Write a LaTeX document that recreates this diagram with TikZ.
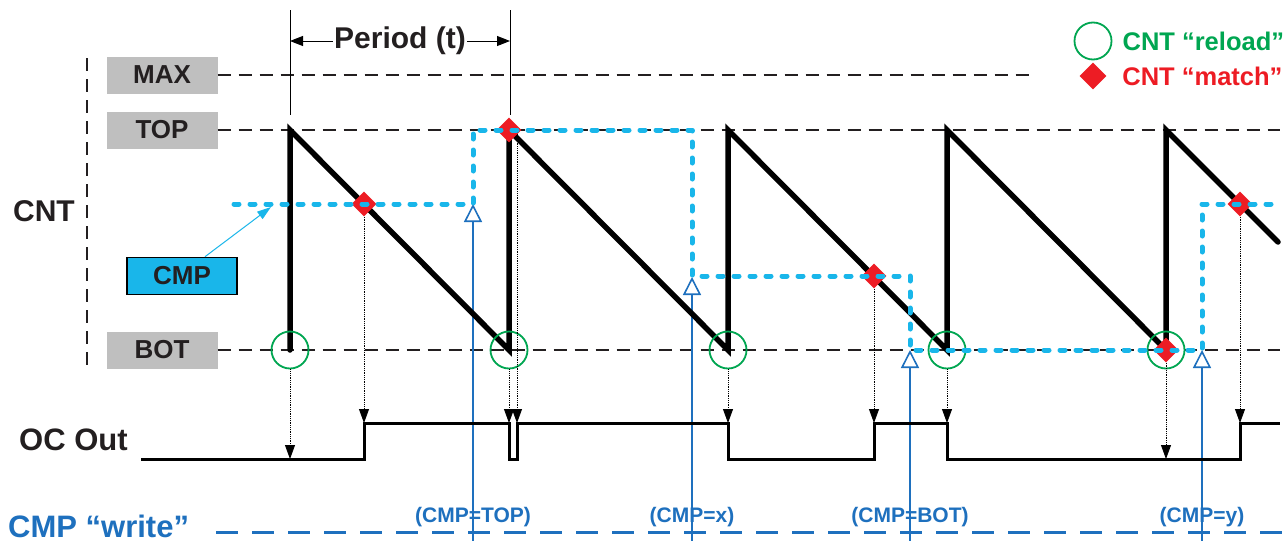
\documentclass[tikz,border=0pt]{standalone}
\usepackage{fontspec}
\setmainfont{Liberation Sans}
\usetikzlibrary{arrows.meta,positioning,shapes.geometric}
\definecolor{cmpCyan}{RGB}{25,182,234}
\definecolor{writeBlue}{RGB}{30,112,190}
\definecolor{reloadGreen}{RGB}{0,166,81}
\definecolor{matchRed}{RGB}{237,28,36}
\definecolor{levelGray}{RGB}{191,191,191}
\definecolor{inkBlack}{RGB}{35,31,32}

\begin{document}
\begin{tikzpicture}[x=1pt,y=-1pt,
      level/.style={fill=levelGray,minimum width=111pt,minimum height=37pt,inner sep=0pt,
        text=inkBlack,font=\fontsize{26}{28}\selectfont\bfseries},
      guide/.style={inkBlack,line width=2.3pt,dash pattern=on 13pt off 8pt},
      reload/.style={circle,draw=reloadGreen,line width=1.8pt,minimum size=37pt,inner sep=0pt},
      match/.style={diamond,fill=matchRed,minimum size=25pt,inner sep=0pt},
      evt/.style={black,line width=0.8pt,densely dotted,-{Triangle[length=14pt,width=10pt]}},
      wr/.style={writeBlue,line width=1.6pt,-{Triangle[length=18pt,width=18pt,fill=white]}},
      wrlabel/.style={inner sep=0pt,text=writeBlue,font=\fontsize{21}{23}\selectfont\bfseries},
      bigtext/.style={inner sep=0pt,text=inkBlack,font=\fontsize{31}{33}\selectfont\bfseries},
      keytext/.style={inner sep=0pt,font=\fontsize{25.5}{28}\selectfont\bfseries}
    ]
    \path[use as bounding box,fill=white] (0,0) rectangle (1286,541);

    % Counter levels and their grey tags.
    \foreach \n/\y/\t in {max/75/MAX,top/130/TOP,bot/350/BOT}{
      \node[level] (\n) at (162,\y) {\t};
    }
    \draw[guide] (max.east) -- (1035,75);
    \draw[guide] (top.east) -- (1280,130);
    \draw[guide] (bot.east) -- (1280,350);
    \draw[guide] (87,58) -- (87,365);

    \node[bigtext,font=\fontsize{30}{32}\selectfont\bfseries] (cnt) at (44,211) {CNT};
    \node[bigtext,anchor=west] (ocout) at (19,440) {OC Out};
    \node[bigtext,anchor=west,text=writeBlue] (cmpwrite) at (8,526) {CMP “write”};

    % Period of the counter.
    \draw[line width=1pt] (290,10) -- (290,115);
    \draw[line width=1pt] (510,10) -- (510,115);
    \node[inner sep=1pt,text=inkBlack,font=\fontsize{30}{32}\selectfont\bfseries]
      (period) at (400,41) {Period (t)};
    \coordinate (pl) at (290,41);
    \coordinate (pr) at (510,41);
    \draw[line width=1pt,-{Triangle[length=13pt,width=10pt]}] (period) -- (pl);
    \draw[line width=1pt,-{Triangle[length=13pt,width=10pt]}] (period) -- (pr);

    % Writes to CMP.
    \draw[writeBlue,line width=3pt,dash pattern=on 22pt off 14pt] (216,532) -- (1286,532);
    \foreach \x/\y/\lab in {473/204/TOP,692/277/x,910/350/BOT,1202/350/y}{
      \coordinate (w\lab) at (\x,541);
      \coordinate (t\lab) at (\x,\y);
      \draw[wr] (w\lab) -- (t\lab);
      \node[wrlabel] (l\lab) at (\x,517) {(CMP=\lab)};
    }

    % Output waveform.
    \draw[black,line width=3pt]
      (141,459) -- (364,459) -- (364,423) -- (509,423) -- (509,459) -- (517,459)
      -- (517,423) -- (728,423) -- (728,459) -- (874,459) -- (874,423) -- (947,423)
      -- (947,459) -- (1240,459) -- (1240,423) -- (1280,423);
    \foreach \n/\x/\y in {1/290/459,2/364/423,3/509/423,4/517/423,5/728/423,
      6/874/423,7/947/423,8/1166/459,9/1240/423}{
      \coordinate (e\n) at (\x,\y);
    }

    % Counter sawtooth.
    \draw[black,line width=5.5pt,line cap=round]
      (290,350) -- (290,130) -- (509,350) -- (509,130) -- (728,350) -- (728,130)
      -- (947,350) -- (947,130) -- (1166,350) -- (1166,130) -- (1278,242);

    \foreach \n/\x in {1/290,2/509,3/728,4/947,5/1166}{
      \node[reload] (r\n) at (\x,350) {};
    }
    \foreach \n/\x/\y in {1/364/204,2/509/130,3/874/276,4/1166/350,5/1240/204}{
      \node[match] (m\n) at (\x,\y) {};
    }
    \coordinate (m2side) at (517,130);
    \foreach \s/\t in {r1/e1,m1/e2,r2/e3,m2side/e4,r3/e5,m3/e6,r4/e7,m4/e8,m5/e9}{
      \draw[evt] (\s) -- (\t);
    }

    % Compare register value.
    \draw[cmpCyan,line width=5pt,line cap=round,line join=round,dash pattern=on 5pt off 11pt]
      (234,204) -- (473,204) -- (473,130) -- (692,130) -- (692,276) -- (910,276)
      -- (910,350) -- (1202,350) -- (1202,204) -- (1280,204);

    \node[draw=black,line width=1.5pt,fill=cmpCyan,minimum width=110pt,minimum height=37pt,
      inner sep=0pt,text=inkBlack,font=\fontsize{26}{28}\selectfont\bfseries]
      (cmpbox) at (182,276) {CMP};
    \coordinate (cmptip) at (271,207);
    \draw[cmpCyan,line width=1pt,-{Triangle[length=14pt,width=9pt]}] (cmpbox.40) -- (cmptip);

    % Legend.
    \node[reload] (keyr) at (1093,41) {};
    \node[keytext,text=reloadGreen,right=10pt of keyr] (keyrtext) {CNT “reload”};
    \node[match,minimum size=27pt] (keym) at (1093,76) {};
    \node[keytext,text=matchRed,right=15.5pt of keym] (keymtext) {CNT “match”};
  \end{tikzpicture}
\end{document}
